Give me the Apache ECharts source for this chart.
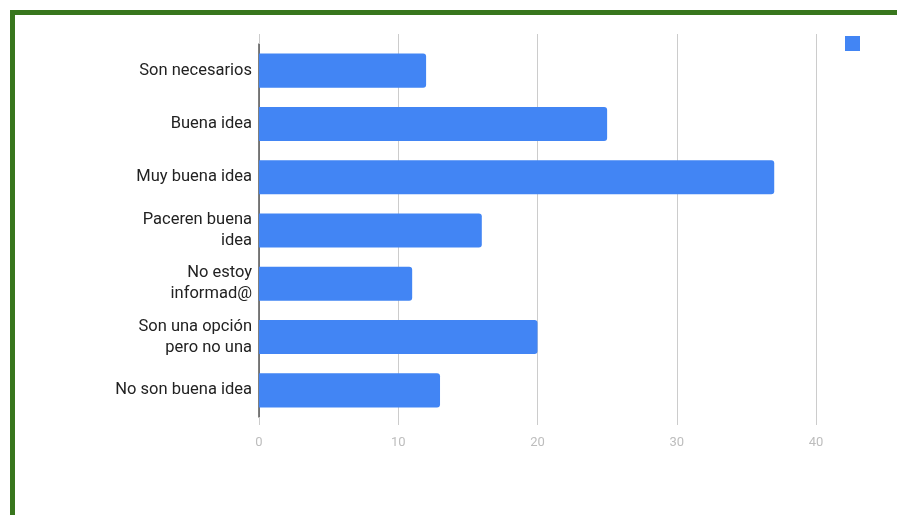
<!DOCTYPE html>
<html>
<head>
<meta charset="utf-8">
<script src="https://cdn.jsdelivr.net/npm/echarts@6/dist/echarts.min.js"></script>
<style>
html,body{margin:0;padding:0;background:#fff;width:897px;height:515px;overflow:hidden;}
#frame{position:absolute;left:10px;top:10px;width:900px;height:520px;border-left:5px solid #38761d;border-top:5px solid #38761d;}
#chart{position:absolute;left:0;top:0;width:897px;height:515px;}
</style>
</head>
<body>
<div id="frame"></div>
<div id="chart"></div>
<script>
const categories = ["Son necesarios", "Buena idea", "Muy buena idea", "Paceren buena\nidea", "No estoy\ninformad@", "Son una opción\npero no una", "No son buena idea"];
const values = [12, 25, 37, 16, 11, 20, 13];
const seriesName = " ";

const chart = echarts.init(document.getElementById('chart'), null, {renderer: 'canvas'});
chart.setOption({
  animation: false,
  backgroundColor: 'transparent',
  grid: {left: 259, right: 81, top: 44, bottom: 98, containLabel: false},
  legend: {
    show: true, left: 840, top: 31, itemWidth: 15, itemHeight: 15, icon: 'rect',
    data: [seriesName], textStyle: {fontSize: 1, color: 'transparent'}, selectedMode: false
  },
  xAxis: [{
    type: 'value', min: 0, max: 40, interval: 10,
    axisLine: {show: false},
    axisTick: {show: true, length: 8, lineStyle: {color: '#cccccc', width: 1}},
    splitLine: {show: true, lineStyle: {color: '#cccccc', width: 1}},
    axisLabel: {color: '#bdbdbd', fontSize: 13, fontFamily: 'Roboto', margin: 19}
  }, {
    type: 'value', min: 0, max: 40, interval: 10, position: 'top',
    axisLine: {show: false},
    axisTick: {show: true, length: 10, lineStyle: {color: '#cccccc', width: 1}},
    splitLine: {show: false},
    axisLabel: {show: false}
  }],
  yAxis: {
    type: 'category', data: categories, inverse: true,
    axisLine: {show: true, lineStyle: {color: '#555555', width: 1.5}},
    axisTick: {show: false},
    axisLabel: {color: '#222222', fontSize: 16.5, fontFamily: 'Roboto', margin: 7, lineHeight: 21, align: 'right'}
  },
  series: [{
    name: seriesName, type: 'bar', data: values, xAxisIndex: 0,
    barCategoryGap: '36%',
    itemStyle: {color: '#4285f4', borderRadius: [0, 3, 3, 0]}
  }]
});
</script>
</body>
</html>
